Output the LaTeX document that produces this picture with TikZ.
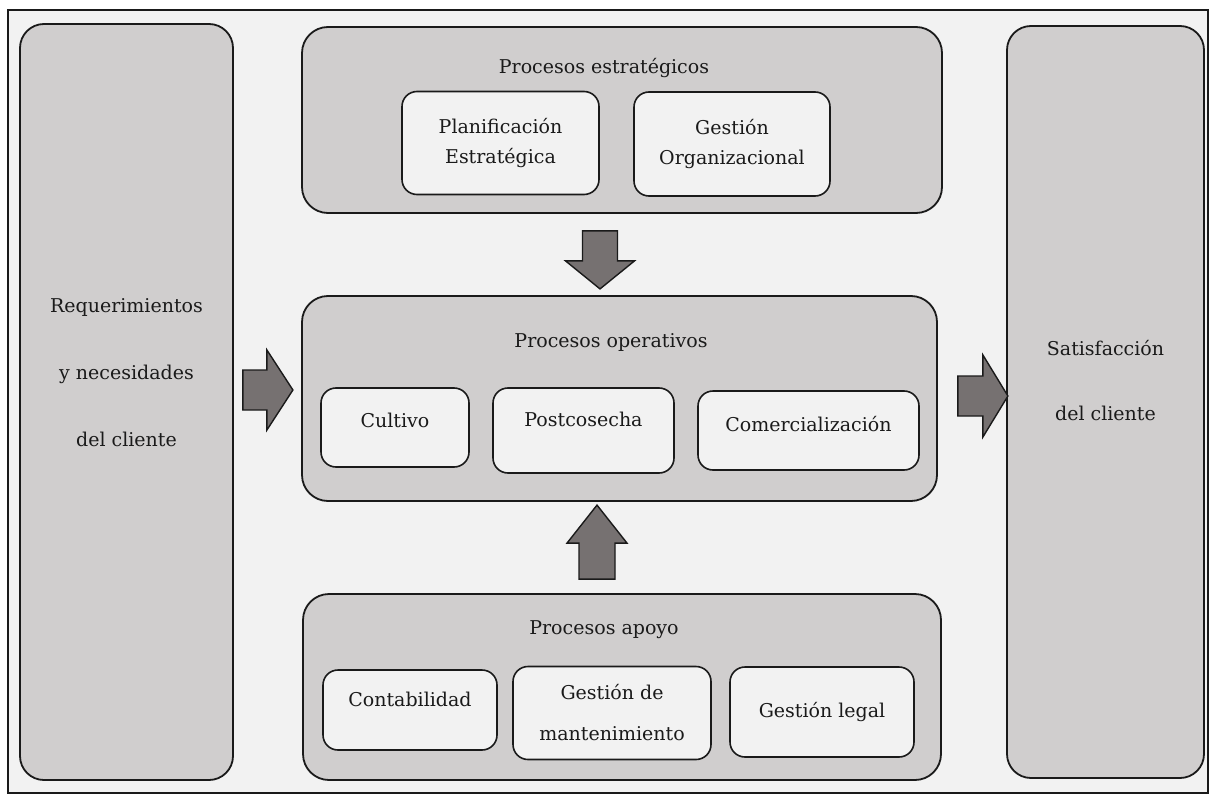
\documentclass[tikz,border=0pt]{standalone}
\usepackage{fontspec}
\setmainfont{DejaVu Serif}
\definecolor{paper}{HTML}{F2F2F2}
\definecolor{boxgray}{HTML}{D0CECE}
\definecolor{arrowgray}{HTML}{767171}
\definecolor{ink}{HTML}{1A1A1A}
\begin{document}
\begin{tikzpicture}[x=1pt,y=-1pt,
  txt/.style={font=\fontsize{19}{30}\selectfont, text=ink, inner sep=0pt, align=center},
  side/.style={draw=ink, line width=1.8pt, fill=boxgray, rounded corners=24pt, inner sep=0pt},
  grp/.style={draw=ink, line width=1.8pt, fill=boxgray, rounded corners=26pt, inner sep=0pt},
  inn/.style={draw=ink, line width=1.6pt, fill=paper, rounded corners=15pt, inner sep=0pt,
              font=\fontsize{19}{30}\selectfont, text=ink, align=center},
  blk/.style={draw=ink, line width=1.4pt, fill=arrowgray, line join=miter}]
% page and frame
\useasboundingbox (0,0) rectangle (1214,802);
\fill[white] (0,0) rectangle (1214,802);
\node[draw=ink, line width=1.5pt, fill=paper, minimum width=1200pt, minimum height=783pt, inner sep=0pt]
  (frame) at (608,401.5) {};

% side columns
\node[side, minimum width=213pt, minimum height=756pt] (req) at (126.5,402) {};
\node[txt, font=\fontsize{19}{67}\selectfont] (reqtxt) at (126.5,373) {Requerimientos\\y necesidades\\del cliente};
\node[side, minimum width=197pt, minimum height=752pt] (sat) at (1105.5,402) {};
\node[txt, font=\fontsize{19}{65}\selectfont] (sattxt) at (1105.5,381) {Satisfacción\\del cliente};

% strategic processes
\node[grp, minimum width=640pt, minimum height=186pt] (est) at (622,120) {};
\node[txt] (esttit) at (604,68) {Procesos estratégicos};
\node[inn, minimum width=197pt, minimum height=103pt] (plan) at (500.5,143) {Planificación\\Estratégica};
\node[inn, minimum width=196pt, minimum height=104pt] (gorg) at (732,144) {Gestión\\Organizacional};

% operative processes (extra text depth lifts the labels above the box centre)
\node[grp, minimum width=635pt, minimum height=205pt] (op) at (619.5,398.5) {};
\node[txt] (optit) at (611,342) {Procesos operativos};
\node[inn, minimum width=148pt, minimum height=79pt, text depth=14pt] (cult) at (395,427.5) {Cultivo};
\node[inn, minimum width=181pt, minimum height=85pt, text depth=22pt] (post) at (583.5,430.5) {Postcosecha};
\node[inn, minimum width=221pt, minimum height=79pt, text depth=14pt] (com) at (808.5,430.5) {Comercialización};

% support processes
\node[grp, minimum width=638pt, minimum height=186pt] (apo) at (622,687) {};
\node[txt] (apotit) at (604,630) {Procesos apoyo};
\node[inn, minimum width=174pt, minimum height=80pt, text depth=22pt] (cont) at (410,710) {Contabilidad};
\node[inn, minimum width=198pt, minimum height=93pt, font=\fontsize{19}{41}\selectfont] (mant) at (612,713) {Gestión de\\mantenimiento};
\node[inn, minimum width=184pt, minimum height=90pt] (legal) at (822,712) {Gestión legal};

% block arrows between the groups
\coordinate (a1) at (req.east |- 0,390);
\draw[blk] ([xshift=9pt]a1) ++(0,-20) -- ++(24,0) -- ++(0,-20) -- ++(26,40) -- ++(-26,40) -- ++(0,-20) -- ++(-24,0) -- cycle;
\coordinate (a2) at (op.east |- 0,396);
\draw[blk] ([xshift=20pt]a2) ++(0,-20) -- ++(25,0) -- ++(0,-21) -- ++(25,41) -- ++(-25,41) -- ++(0,-21) -- ++(-25,0) -- cycle;
\coordinate (a3) at (est.south -| 600,0);
\draw[blk] ([yshift=-17pt]a3) ++(-17.5,0) -- ++(0,30) -- ++(-17,0) -- ++(34.5,28) -- ++(34.5,-28) -- ++(-17,0) -- ++(0,-30) -- cycle;
\coordinate (a4) at (apo.north -| 597,0);
\draw[blk] ([yshift=14pt]a4) ++(-18,0) -- ++(0,-36) -- ++(-12,0) -- ++(30,-38) -- ++(30,38) -- ++(-12,0) -- ++(0,36) -- cycle;
\end{tikzpicture}
\end{document}
